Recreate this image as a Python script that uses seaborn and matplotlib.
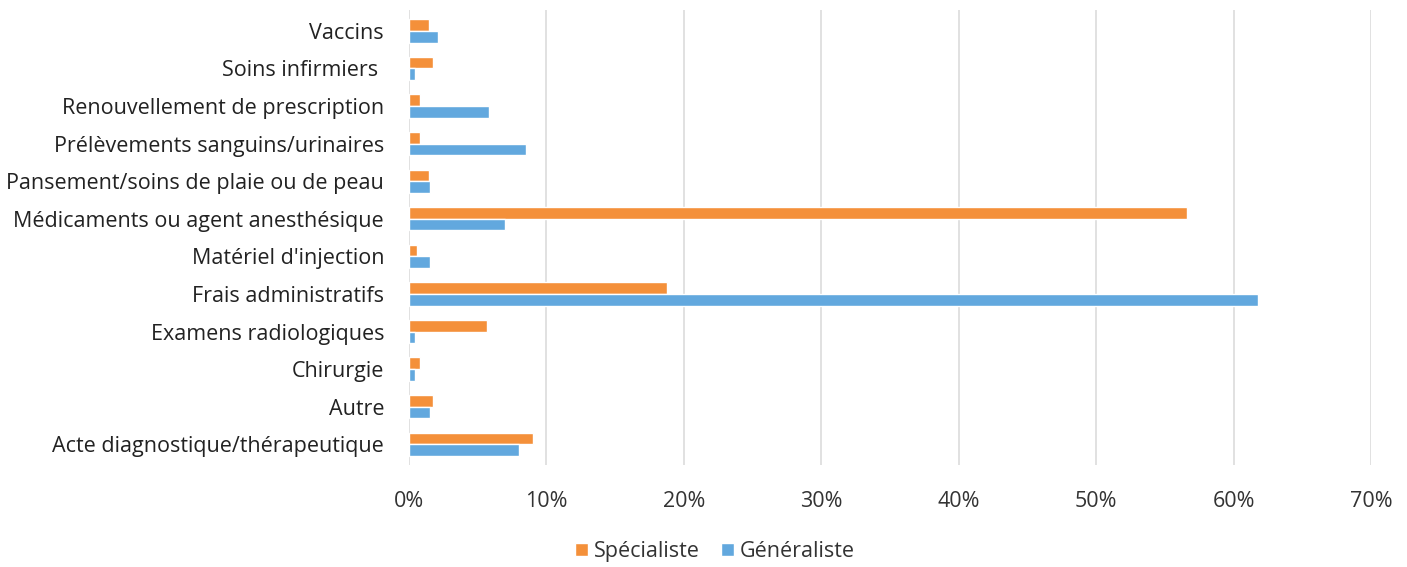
import pandas as pd
import seaborn as sns
import matplotlib.pyplot as plt
from matplotlib.ticker import PercentFormatter
from matplotlib.patches import Patch

# données (en %)
categories = [
    "Vaccins",
    "Soins infirmiers ",
    "Renouvellement de prescription",
    "Prélèvements sanguins/urinaires",
    "Pansement/soins de plaie ou de peau",
    "Médicaments ou agent anesthésique",
    "Matériel d'injection",
    "Frais administratifs",
    "Examens radiologiques",
    "Chirurgie",
    "Autre",
    "Acte diagnostique/thérapeutique",
]
specialiste = [1.45, 1.75, 0.8, 0.8, 1.45, 56.6, 0.55, 18.8, 5.7, 0.8, 1.75, 9.0]
generaliste = [2.1, 0.45, 5.85, 8.5, 1.5, 7.0, 1.5, 61.8, 0.45, 0.45, 1.5, 8.0]
series = ["Spécialiste", "Généraliste"]
colors = ["#F4903A", "#62A8DE"]

df = pd.DataFrame({
    "cat": categories * 2,
    "val": specialiste + generaliste,
    "type": [series[0]] * len(categories) + [series[1]] * len(categories),
})

sns.set_style("white")
plt.rcParams["font.family"] = ["Open Sans", "DejaVu Sans"]

fig = plt.figure(figsize=(14.07, 5.67), dpi=100)
ax = fig.add_axes([0.2907, 0.18, 0.6837, 0.802])

sns.barplot(data=df, y="cat", x="val", hue="type", order=categories,
            hue_order=series, palette=colors, width=0.62, orient="h",
            saturation=1, ax=ax, legend=False)

ax.set_xlim(0, 70)
ax.set_ylim(len(categories) - 0.45, -0.55)
ax.set_xticks(range(0, 71, 10))
ax.xaxis.set_major_formatter(PercentFormatter(decimals=0))
ax.grid(axis="x", color="#dcdcdc", linewidth=1.2)
ax.set_axisbelow(True)
for s in ax.spines.values():
    s.set_visible(False)
ax.set_xlabel("")
ax.set_ylabel("")
ax.tick_params(axis="x", labelsize=15.5, colors="#333333", pad=19, length=0)
ax.tick_params(axis="y", labelsize=15.5, colors="#222222", pad=18, length=0)

handles = [Patch(facecolor=c, label=l) for c, l in zip(colors, series)]
fig.legend(handles=handles, loc="center", bbox_to_anchor=(0.508, 0.027), ncol=2,
           frameon=False, fontsize=15.5, handlelength=0.6, handleheight=0.6,
           handletextpad=0.25, columnspacing=1.0, labelcolor="#333333")

fig.savefig("out.png", dpi=100)
